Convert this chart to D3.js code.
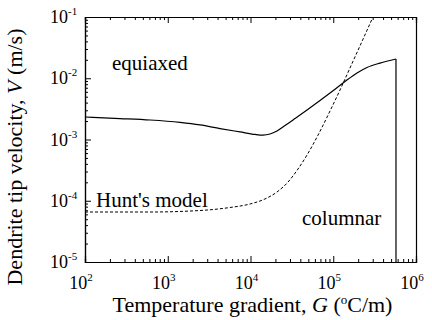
<!DOCTYPE html>
<html>
<head>
<meta charset="utf-8">
<script src="https://cdn.jsdelivr.net/npm/d3@7"></script>
<style>
  body { margin: 0; background: #fff; }
</style>
</head>
<body>
<svg id="chart"></svg>
<script>
// solid curve (model), G in degC/m, V in m/s
const solidG = [100, 265, 611, 1407, 2455, 4280, 7470, 11330, 14150, 17200, 20900, 26100, 34500, 48200, 69200, 96600, 138700, 193600, 255600, 367000, 573000];
const solidV = [2.33e-3, 2.2e-3, 2.08e-3, 1.9e-3, 1.73e-3, 1.51e-3, 1.33e-3, 1.21e-3, 1.18e-3, 1.23e-3, 1.38e-3, 1.69e-3, 2.2e-3, 3.03e-3, 4.33e-3, 6.08e-3, 8.85e-3, 1.22e-2, 1.5e-2, 1.77e-2, 2.06e-2];
const dropV = 1e-5;

// dashed curve (Hunt's model)
const dashedG = [100, 611, 2455, 5650, 9860, 14960, 20900, 28400, 37500, 48200, 65500, 91400, 120700, 159300, 210400, 302000];
const dashedV = [6.55e-5, 6.55e-5, 6.93e-5, 7.76e-5, 8.85e-5, 1.07e-4, 1.39e-4, 2.02e-4, 3.3e-4, 5.58e-4, 1.18e-3, 2.92e-3, 6.43e-3, 1.47e-2, 3.37e-2, 1e-1];

const xTicks = [1e2, 1e3, 1e4, 1e5, 1e6];
const yTicks = [1e-5, 1e-4, 1e-3, 1e-2, 1e-1];
const xExp = ["2", "3", "4", "5", "6"];
const yExp = ["-5", "-4", "-3", "-2", "-1"];

const FONT = "'Times New Roman', 'Liberation Serif', 'DejaVu Serif', serif";

const W = 432, H = 320;
const margin = {top: 17, right: 16, bottom: 58, left: 85};
const width = W - margin.left - margin.right,
      height = H - margin.top - margin.bottom;

const svg = d3.select("#chart").attr("width", W).attr("height", H)
  .attr("font-family", FONT);
const g = svg.append("g").attr("transform", `translate(${margin.left},${margin.top})`);

const x = d3.scaleLog().domain([1e2, 1e6]).range([0, width]);
const y = d3.scaleLog().domain([1e-5, 1e-1]).range([height, 0]);

// minor ticks
const minorX = [], minorY = [];
for (let e = 2; e < 6; e++) for (let k = 2; k <= 9; k++) minorX.push(k * Math.pow(10, e));
for (let e = -5; e < -1; e++) for (let k = 2; k <= 9; k++) minorY.push(k * Math.pow(10, e));

// axes, ticks inward
g.append("g").attr("transform", `translate(0,${height})`)
  .call(d3.axisBottom(x).tickValues(minorX).tickSize(-3).tickFormat(""));
g.append("g").attr("transform", `translate(0,${height})`)
  .call(d3.axisBottom(x).tickValues(xTicks).tickSize(-6).tickFormat(""));
g.append("g")
  .call(d3.axisTop(x).tickValues(minorX).tickSize(-3).tickFormat(""));
g.append("g")
  .call(d3.axisTop(x).tickValues(xTicks).tickSize(-6).tickFormat(""));
g.append("g")
  .call(d3.axisLeft(y).tickValues(minorY).tickSize(-3).tickFormat(""));
g.append("g")
  .call(d3.axisLeft(y).tickValues(yTicks).tickSize(-6).tickFormat(""));
g.append("g").attr("transform", `translate(${width},0)`)
  .call(d3.axisRight(y).tickValues([]).tickSize(0).tickFormat(""));

g.selectAll(".domain").attr("stroke", "#000").attr("stroke-width", 1.2);
g.selectAll(".tick line").attr("stroke", "#000").attr("stroke-width", 1);

// tick labels
xTicks.forEach((t, i) => {
  const tx = g.append("text")
    .attr("x", x(t) - 4).attr("y", height + 27)
    .attr("text-anchor", "middle")
    .attr("font-family", FONT)
    .style("font-size", "18px")
    .text("10");
  tx.append("tspan").attr("dy", -8).style("font-size", "11px").text(xExp[i]);
});
yTicks.forEach((t, i) => {
  const ty = g.append("text")
    .attr("x", -35).attr("y", y(t) + 6)
    .attr("font-family", FONT)
    .style("font-size", "18px")
    .text("10");
  ty.append("tspan").attr("dy", -8).style("font-size", "11px").text(yExp[i]);
});

// curves
const line = d3.line()
  .x(d => x(d[0]))
  .y(d => y(d[1]))
  .curve(d3.curveMonotoneX);

const solid = solidG.map((d, i) => [d, solidV[i]]);
const dashed = dashedG.map((d, i) => [d, dashedV[i]]);

g.append("path")
  .datum(solid)
  .attr("d", line)
  .attr("fill", "none")
  .attr("stroke", "#000")
  .attr("stroke-width", 1.2);

const last = solid[solid.length - 1];
g.append("line")
  .attr("x1", x(last[0])).attr("y1", y(last[1]))
  .attr("x2", x(last[0])).attr("y2", y(dropV))
  .attr("stroke", "#000")
  .attr("stroke-width", 1.2);

g.append("path")
  .datum(dashed)
  .attr("d", line)
  .attr("fill", "none")
  .attr("stroke", "#000")
  .attr("stroke-width", 1)
  .attr("stroke-dasharray", "3,2");

// region labels
g.append("text").attr("x", x(212)).attr("y", y(1.36e-2))
  .attr("font-family", FONT).style("font-size", "21px").text("equiaxed");
g.append("text").attr("x", x(136)).attr("y", y(7.9e-5))
  .attr("font-family", FONT).style("font-size", "21px").text("Hunt's model");
g.append("text").attr("x", x(41900)).attr("y", y(4.0e-5))
  .attr("font-family", FONT).style("font-size", "21px").text("columnar");

// axis titles
const xt = svg.append("text")
  .attr("x", margin.left + width / 2 + 2).attr("y", H - 8)
  .attr("text-anchor", "middle")
  .attr("font-family", FONT)
  .style("font-size", "22px")
  .text("Temperature gradient, ");
xt.append("tspan").style("font-style", "italic").text("G");
xt.append("tspan").text(" (");
xt.append("tspan").attr("dy", -8).style("font-size", "13px").text("o");
xt.append("tspan").attr("dy", 8).text("C/m)");

const yt = svg.append("text")
  .attr("transform", `translate(22,157) rotate(-90)`)
  .attr("text-anchor", "middle")
  .attr("font-family", FONT)
  .style("font-size", "22px")
  .text("Dendrite tip velocity, ");
yt.append("tspan").style("font-style", "italic").text("V");
yt.append("tspan").text(" (m/s)");
</script>
</body>
</html>
